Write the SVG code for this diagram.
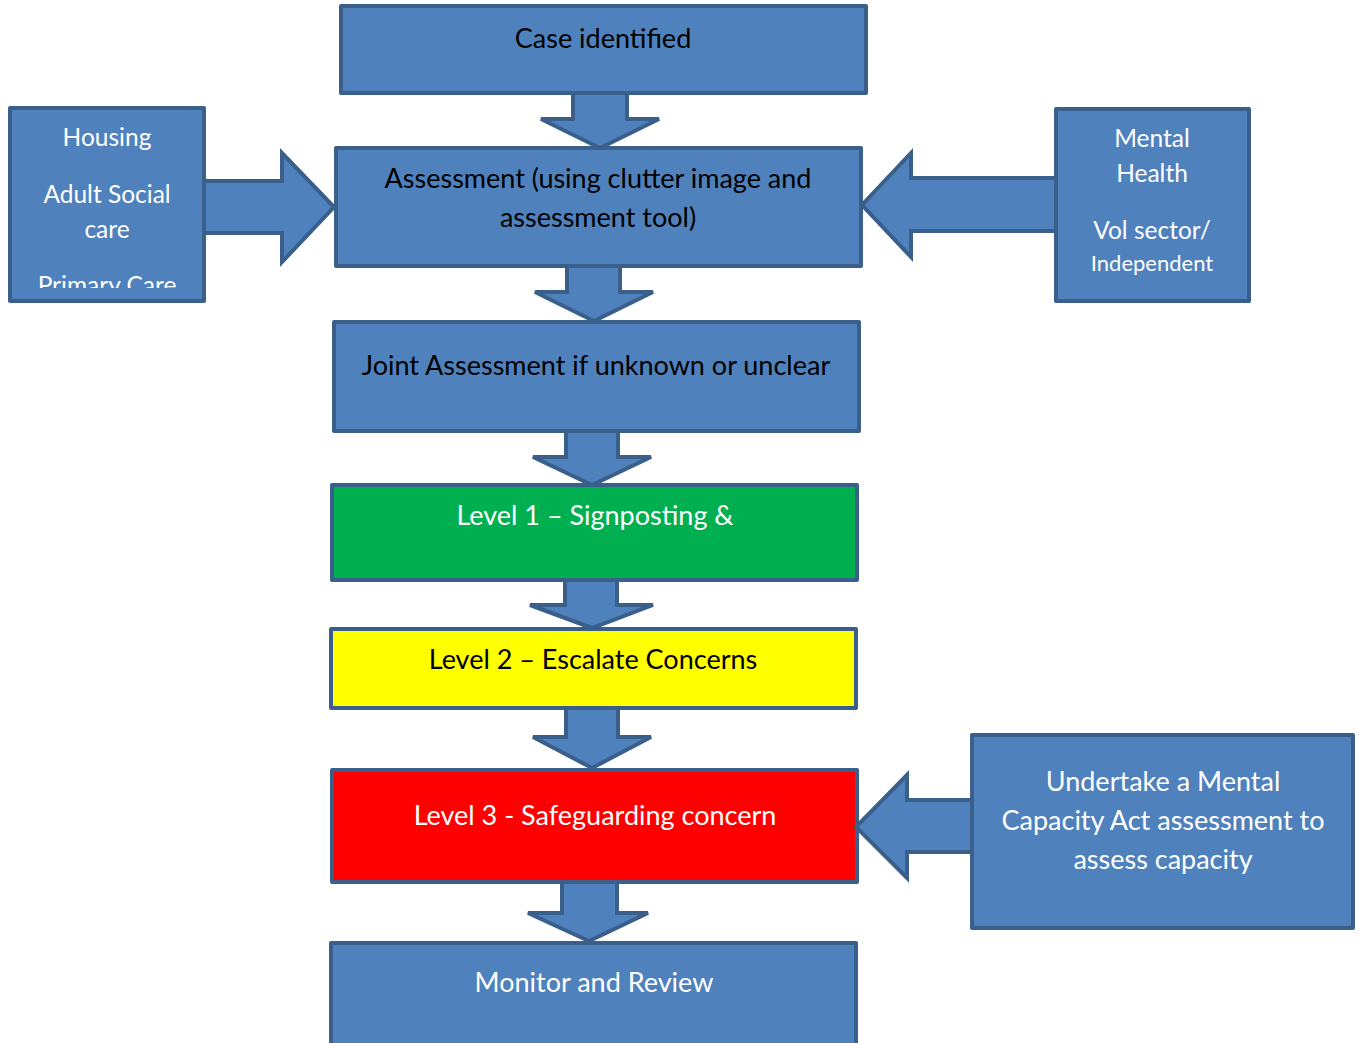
<svg xmlns="http://www.w3.org/2000/svg" width="1359" height="1043" viewBox="0 0 1359 1043">
<style>
.box{fill:#4F81BD;stroke:#3A5F8B;stroke-width:4;stroke-linejoin:round}
.arr{fill:#4F81BD;stroke:#3A5F8B;stroke-width:4;stroke-linejoin:miter}
.t{font-family:Lato,"Liberation Sans",sans-serif;font-size:27px;fill:#FFFFFF;text-anchor:middle}
.k{fill:#000000}
.s{font-size:24.5px}
</style>
<defs>
<clipPath id="clipL"><rect x="12" y="110" width="190" height="178"/></clipPath>
<clipPath id="clip1"><rect x="334" y="487" width="521" height="81"/></clipPath>
</defs>
<rect width="1359" height="1043" fill="#FFFFFF"/>
<g id="nodes">
<g id="case"><rect class="box" x="341" y="6" width="525" height="87"/><text class="t k" x="603" y="48">Case identified</text></g>
<g id="assessment"><rect class="box" x="336" y="148" width="525" height="118"/><text class="t k" x="598" y="188">Assessment (using clutter image and</text><text class="t k" x="598" y="227">assessment tool)</text></g>
<g id="left"><rect class="box" x="10" y="108" width="194" height="193"/><g clip-path="url(#clipL)"><text class="t s" x="107" y="146">Housing</text><text class="t s" x="107" y="203">Adult Social</text><text class="t s" x="107" y="238">care</text><text class="t s" x="107" y="294">Primary Care</text></g></g>
<g id="right"><rect class="box" x="1056" y="109" width="193" height="192"/><text class="t s" x="1152" y="147">Mental</text><text class="t s" x="1152" y="182">Health</text><text class="t s" x="1152" y="239">Vol sector/</text><text class="t" style="font-size:22px" x="1152" y="271">Independent</text></g>
<g id="joint"><rect class="box" x="334" y="322" width="525" height="109"/><text class="t k" x="596" y="375">Joint Assessment if unknown or unclear</text></g>
<g id="level1"><rect class="box" style="fill:#00B050" x="332" y="485" width="525" height="95"/><g clip-path="url(#clip1)"><text class="t" x="595" y="525">Level 1 – Signposting &amp;</text></g></g>
<g id="level2"><rect class="box" style="fill:#FFFF00" x="331" y="629" width="525" height="79"/><text class="t k" x="593" y="669">Level 2 – Escalate Concerns</text></g>
<g id="level3"><rect class="box" style="fill:#FF0000" x="332" y="770" width="525" height="112"/><text class="t" x="595" y="825">Level 3 - Safeguarding concern</text></g>
<g id="mca"><rect class="box" x="972" y="735" width="381" height="193"/><text class="t" x="1163" y="791">Undertake a Mental</text><text class="t" x="1163" y="830">Capacity Act assessment to</text><text class="t" x="1163" y="869">assess capacity</text></g>
<g id="monitor"><rect class="box" x="331" y="943" width="525" height="110"/><text class="t" x="594" y="992">Monitor and Review</text></g>
</g>
<g id="connectors">
<polygon class="arr" points="573,93 627,93 627,119 659,119 600,148 541,119 573,119"/>
<polygon class="arr" points="567,266 620,266 620,292 653,292 594,321 535,292 567,292"/>
<polygon class="arr" points="566,431 618,431 618,457 651,457 592,485 533,457 566,457"/>
<polygon class="arr" points="565,580 617,580 617,605 653,605 592,628 530,605 565,605"/>
<polygon class="arr" points="566,708 618,708 618,737 651,737 592,768 533,737 566,737"/>
<polygon class="arr" points="562,882 617,882 617,913 648,913 589,941 528,913 562,913"/>
<polygon class="arr" points="204,181 282,181 282,153 334,207 282,262 282,233 204,233"/>
<polygon class="arr" points="1056,178 911,178 911,153 862,205 911,257 911,231 1056,231"/>
<polygon class="arr" points="972,800 907,800 907,775 856,827 907,878 907,852 972,852"/>
</g>
</svg>
